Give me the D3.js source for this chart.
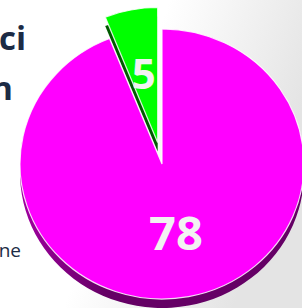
<!DOCTYPE html>
<html>
<head>
<meta charset="utf-8">
<script src="https://cdn.jsdelivr.net/npm/d3@7"></script>
<style>
  html, body { margin: 0; padding: 0; background: #fff; }
  svg { display: block; }
</style>
</head>
<body>
<div id="chart"></div>
<script>
// values
var categories = ['big', 'small'];
var values = [78, 5];
var faceColors = ['#ff00ff', '#00ff00'];
var sideColors = ['#650065', '#005a00'];
var sideText = [
  { t: 'ci', x: 26, y: 50, size: 33, weight: 700 },
  { t: 'n', x: 13, y: 100, size: 33, weight: 700 },
  { t: 'ne', x: 21, y: 257, size: 19, weight: 400 }
];

var width = 302, height = 308;
var cx = 162, cy = 164, rx = 142, ry = 135;
var depth = 9, explode = 23;
var sy = ry / rx;

var svg = d3.select('#chart').append('svg')
  .attr('width', width)
  .attr('height', height);

var defs = svg.append('defs');
var bg = defs.append('linearGradient').attr('id', 'bg')
  .attr('x1', '0').attr('y1', '0').attr('x2', '1').attr('y2', '0.35');
bg.append('stop').attr('offset', '0.5').attr('stop-color', '#ffffff');
bg.append('stop').attr('offset', '1').attr('stop-color', '#e4e4e4');

var sideGrad = defs.append('linearGradient').attr('id', 'side0')
  .attr('x1', '0').attr('y1', '0').attr('x2', '1').attr('y2', '0');
sideGrad.append('stop').attr('offset', '0').attr('stop-color', '#a000a0');
sideGrad.append('stop').attr('offset', '0.3').attr('stop-color', sideColors[0]);
sideGrad.append('stop').attr('offset', '1').attr('stop-color', sideColors[0]);

svg.append('rect').attr('width', width).attr('height', height).attr('fill', 'url(#bg)');

svg.selectAll('text.side')
  .data(sideText)
  .enter().append('text')
  .attr('class', 'side')
  .attr('x', function(d) { return d.x; })
  .attr('y', function(d) { return d.y; })
  .attr('text-anchor', 'end')
  .attr('font-family', 'Open Sans, sans-serif')
  .attr('font-size', function(d) { return d.size; })
  .attr('font-weight', function(d) { return d.weight; })
  .attr('fill', '#1c2b45')
  .text(function(d) { return d.t; });

var pie = d3.pie().sort(null).startAngle(0).endAngle(2 * Math.PI);
var arcs = pie(values);
var arc = d3.arc().innerRadius(0).outerRadius(rx);
var labelArc = d3.arc().innerRadius(rx * 0.52).outerRadius(rx * 0.52);

// offset of each slice centre (the small one is pulled out)
function offset(d, i) {
  if (i === 0) return [0, 0];
  var c = d3.arc().innerRadius(0).outerRadius(explode).centroid(d);
  var m = Math.hypot(c[0], c[1]);
  return [c[0] / m * explode, c[1] / m * explode * sy];
}

var slices = svg.selectAll('g.slice')
  .data(arcs)
  .enter().append('g')
  .attr('class', 'slice')
  .attr('transform', function(d, i) {
    var o = offset(d, i);
    return 'translate(' + (cx + o[0]) + ',' + (cy + o[1]) + ')';
  });

slices.append('path')
  .attr('transform', 'translate(0,' + depth + ') scale(1,' + sy + ')')
  .attr('d', arc)
  .attr('fill', function(d, i) { return i === 0 ? 'url(#side0)' : sideColors[i]; });

slices.append('path')
  .attr('transform', 'scale(1,' + sy + ')')
  .attr('d', arc)
  .attr('fill', function(d, i) { return faceColors[i]; })
  .attr('stroke', '#ffffff')
  .attr('stroke-width', 1.2)
  .attr('stroke-opacity', 0.85)
  .attr('vector-effect', 'non-scaling-stroke');

slices.append('text')
  .attr('x', function(d) { return labelArc.centroid(d)[0]; })
  .attr('y', function(d) { return labelArc.centroid(d)[1] * sy; })
  .attr('dy', '0.36em')
  .attr('text-anchor', 'middle')
  .attr('font-family', 'Open Sans, sans-serif')
  .attr('font-weight', 700)
  .attr('font-size', function(d, i) { return i === 0 ? 47 : 42; })
  .attr('fill', '#f2f2f2')
  .text(function(d) { return d.value; });
</script>
</body>
</html>
